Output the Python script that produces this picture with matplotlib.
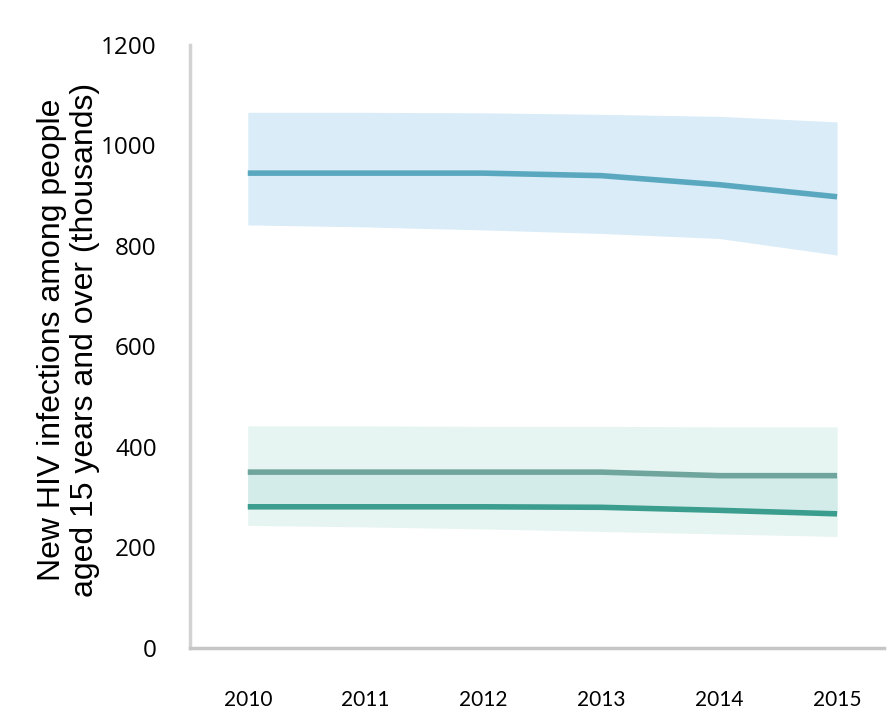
import matplotlib.pyplot as plt

# new HIV infections, people aged 15+ (thousands)
years = [2010, 2011, 2012, 2013, 2014, 2015]

top_est = [945, 945, 945, 940, 922, 898]
top_hi = [1066, 1066, 1065, 1062, 1058, 1047]
top_lo = [842, 838, 832, 825, 815, 782]

mid_est = [350, 350, 350, 350, 343, 343]
low_est = [281, 281, 281, 280, 274, 267]
low_hi = [442, 442, 441, 441, 440, 440]
low_lo = [244, 241, 237, 232, 227, 222]

yticks = [0, 200, 400, 600, 800, 1000, 1200]

fig = plt.figure(figsize=(8.9, 7.2), dpi=100)
ax = fig.add_axes([0.2135, 0.1, 0.78, 0.8375])

# uncertainty bands
ax.fill_between(years, top_lo, top_hi, color='#d9ecf7', lw=0)
ax.fill_between(years, low_lo, low_hi, color='#e6f4f2', lw=0)
ax.fill_between(years, low_est, mid_est, color='#d3ecea', lw=0)

# estimates
ax.plot(years, top_est, color='#5aa8bf', lw=4, solid_capstyle='butt')
ax.plot(years, mid_est, color='#6fa59c', lw=4, solid_capstyle='butt')
ax.plot(years, low_est, color='#3a9d8e', lw=4, solid_capstyle='butt')

ax.set_xlim(2009.51, 2015.40)
ax.set_ylim(0, 1200)
ax.set_yticks(yticks)
ax.set_yticklabels([str(v) for v in yticks], fontsize=17.5, family='Open Sans')
ax.set_xticks(years)
ax.set_xticklabels([str(y) for y in years], fontsize=15, family='Lato')
ax.tick_params(axis='y', length=0, pad=24)
ax.tick_params(axis='x', length=0, pad=30)

for s in ['top', 'right']:
    ax.spines[s].set_visible(False)
ax.spines['left'].set_color('#d2d2d2')
ax.spines['left'].set_linewidth(2.5)
ax.spines['bottom'].set_color('#c6c6c6')
ax.spines['bottom'].set_linewidth(2.5)

fig.text(0.077, 0.528,
         'New HIV infections among people\naged 15 years and over (thousands)',
         rotation=90, ha='center', va='center', fontsize=23,
         family='Liberation Sans', linespacing=1.1)

fig.savefig('out.png', dpi=100, facecolor='white')
